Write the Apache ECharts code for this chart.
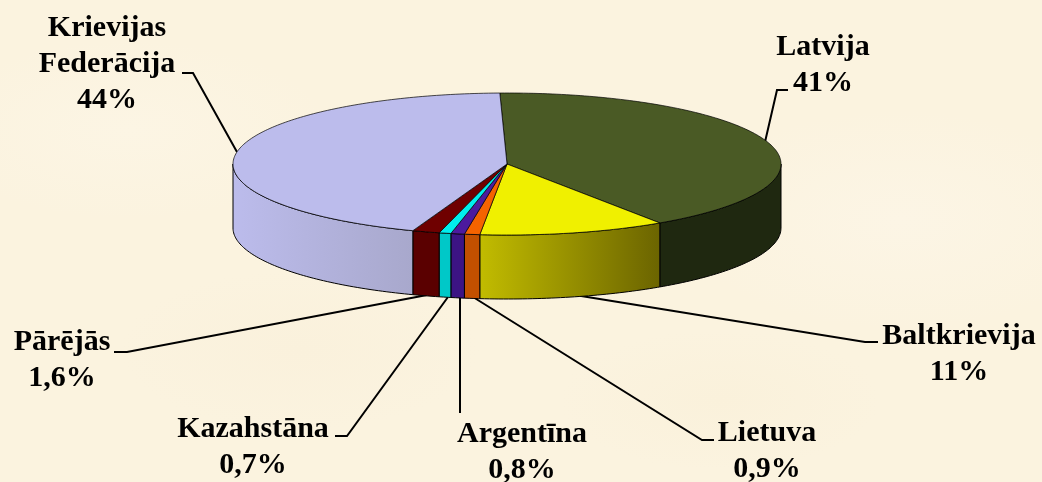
<!DOCTYPE html>
<html>
<head>
    <meta http-equiv="Content-Type" content="text/html; charset=UTF-8">
    <title>Pie</title>
    <script type="text/javascript" src="https://cdn.jsdelivr.net/npm/echarts@6/dist/echarts.min.js"></script>
    <style>
        html, body { margin: 0; padding: 0; }
        /*parchment background*/
        body {
            width: 1042px;
            height: 482px;
            overflow: hidden;
            background-color: #fbf3df;
            background-image:
                radial-gradient(ellipse 200px 90px at 130px 130px, #fcf5e4 0%, rgba(252, 245, 228, 0) 100%),
                radial-gradient(ellipse 220px 110px at 900px 220px, #fcf5e5 0%, rgba(252, 245, 229, 0) 100%),
                radial-gradient(ellipse 160px 70px at 720px 400px, #faf1db 0%, rgba(250, 241, 219, 0) 100%),
                radial-gradient(ellipse 180px 80px at 300px 350px, #faf1dc 0%, rgba(250, 241, 220, 0) 100%);
        }
        #main { width: 1042px; height: 482px; }
    </style>
</head>
<body>
<div id="main"></div>
<script type="text/javascript">
    //slices, clockwise from the top
    var names = ['Latvija', 'Baltkrievija', 'Lietuva', 'Argentīna', 'Kazahstāna', 'Pārējās', 'Krievijas\nFederācija'];
    var shares = [41, 11, 0.9, 0.8, 0.7, 1.6, 44];
    var topColors = ['#4a5a25', '#f0f000', '#f56300', '#4c1a9e', '#00eeee', '#6f0000', '#bcbcec'];
    var wallLeft = ['#1f2810', '#c2bc00', '#c25000', '#3c1484', '#00c8c8', '#5a0000', '#bcbcec'];
    var wallRight = ['#1f2810', '#6b6400', '#c25000', '#3c1484', '#00c8c8', '#5a0000', '#a8a8cc'];

    //label centre, first line y, leader line
    var labelX = [823, 959, 767, 522, 253, 62, 107];
    var labelY = [47, 336, 433, 434, 429, 342, 28];
    var leaders = [
        [[788, 90], [777, 90], [765, 142]],
        [[878, 342], [865, 342], [575, 295]],
        [[714, 440], [702, 440], [473, 297]],
        [[460, 413], [460, 297]],
        [[335, 436], [347, 436], [448, 297]],
        [[114, 352], [127, 352], [427, 295]],
        [[182, 73], [193, 73], [237, 152]]
    ];

    var cx = 507, cy = 164, rx = 274, ry = 71, depth = 64;
    var startDeg = -1.5;

    //angle in degrees clockwise from the top -> point on the ellipse
    function pt(deg, dy) {
        var a = deg * Math.PI / 180;
        return [cx + rx * Math.sin(a), cy - ry * Math.cos(a) + (dy || 0)];
    }

    function sliceRange(i) {
        var total = 0, before = 0;
        for (var k = 0; k < shares.length; k++) {
            if (k < i) before += shares[k];
            total += shares[k];
        }
        return [startDeg + before / total * 360, startDeg + (before + shares[i]) / total * 360];
    }

    function renderSlice(params, api) {
        var i = api.value(0);
        var r = sliceRange(i);
        var children = [];
        var d;
        //front wall only between 90 and 270
        var a0 = Math.max(r[0], 90), a1 = Math.min(r[1], 270);
        if (a1 > a0) {
            var wall = [];
            for (d = a0; d < a1; d += 1) wall.push(pt(d));
            wall.push(pt(a1));
            for (d = a1; d > a0; d -= 1) wall.push(pt(d, depth));
            wall.push(pt(a0, depth));
            children.push({
                type: 'polygon',
                shape: {points: wall},
                style: {
                    fill: new echarts.graphic.LinearGradient(0, 0, 1, 0, [
                        {offset: 0, color: wallLeft[i]},
                        {offset: 1, color: wallRight[i]}
                    ]),
                    stroke: '#000',
                    lineWidth: 1
                }
            });
        }
        var top = [[cx, cy]];
        for (d = r[0]; d < r[1]; d += 1) top.push(pt(d));
        top.push(pt(r[1]));
        children.push({
            type: 'polygon',
            shape: {points: top},
            style: {fill: topColors[i], stroke: '#000', lineWidth: 0.7}
        });
        return {type: 'group', children: children};
    }

    var graphics = [];
    for (var i = 0; i < names.length; i++) {
        graphics.push({
            type: 'polyline',
            shape: {points: leaders[i]},
            style: {stroke: '#000', lineWidth: 2, fill: null}
        });
        var lines = names[i].split('\n');
        lines.push(String(shares[i]).replace('.', ',') + '%');
        for (var j = 0; j < lines.length; j++) {
            graphics.push({
                type: 'text',
                x: labelX[i],
                y: labelY[i] + j * 36,
                style: {
                    text: lines[j],
                    fill: '#000',
                    font: 'bold 30px "Liberation Serif"',
                    align: 'center',
                    verticalAlign: 'middle'
                }
            });
        }
    }

    var seriesData = [];
    for (var s = 0; s < names.length; s++) seriesData.push([s, shares[s]]);

    var chart = echarts.init(document.getElementById('main'));
    chart.setOption({
        animation: false,
        backgroundColor: 'transparent',
        series: [{
            type: 'custom',
            coordinateSystem: 'none',
            renderItem: renderSlice,
            data: seriesData,
            silent: true
        }],
        graphic: graphics
    });
</script>
</body>
</html>
